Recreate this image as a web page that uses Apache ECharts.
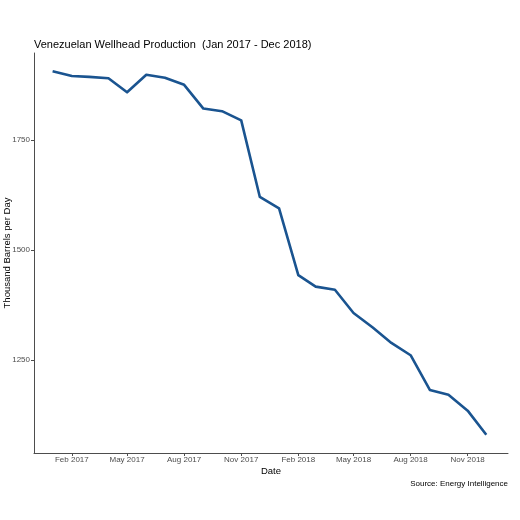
<!DOCTYPE html>
<html>
<head>
<meta charset="utf-8">
<script src="https://cdn.jsdelivr.net/npm/echarts@6/dist/echarts.min.js"></script>
<style>html,body{margin:0;padding:0;background:#fff;}#c{width:520px;height:520px;}</style>
</head>
<body>
<div id="c"></div>
<script>
var months = ['2017-01-01','2017-02-01','2017-03-01','2017-04-01','2017-05-01','2017-06-01','2017-07-01','2017-08-01','2017-09-01','2017-10-01','2017-11-01','2017-12-01',
              '2018-01-01','2018-02-01','2018-03-01','2018-04-01','2018-05-01','2018-06-01','2018-07-01','2018-08-01','2018-09-01','2018-10-01','2018-11-01','2018-12-01'];
var production = [1907,1896,1894,1891,1859,1899,1892,1876,1822,1816,1795,1621,
                  1595,1443,1417,1410,1357,1324,1289,1261,1182,1171,1135,1080];
var xTickDates = ['2017-02-01','2017-05-01','2017-08-01','2017-11-01','2018-02-01','2018-05-01','2018-08-01','2018-11-01'];
var yTicks = [1250,1500,1750];
var monthNames = ['Jan','Feb','Mar','Apr','May','Jun','Jul','Aug','Sep','Oct','Nov','Dec'];

function ts(s){var p=s.split('-');return Date.UTC(+p[0],+p[1]-1,+p[2]);}
var data = months.map(function(m,i){return [ts(m), production[i]];});
var xTicks = xTickDates.map(ts);
var xMin = ts('2016-12-02'), xMax = ts('2019-01-05');
var pMin = Math.min.apply(null,production), pMax = Math.max.apply(null,production);
var pad = (pMax-pMin)*0.05;
var FONT = 'Liberation Sans, Arial';

var chart = echarts.init(document.getElementById('c'));
chart.setOption({
  animation:false,
  backgroundColor:'#ffffff',
  title:[{
    text:'Venezuelan Wellhead Production  (Jan 2017 - Dec 2018)',
    left:34, top:39, padding:0,
    textStyle:{fontFamily:FONT, fontSize:11, fontWeight:'normal', color:'#000'}
  },{
    text:'Source: Energy Intelligence',
    right:12, top:480, padding:0,
    textStyle:{fontFamily:FONT, fontSize:8, fontWeight:'normal', color:'#000'}
  }],
  grid:{left:34, right:12, top:53, bottom:67, containLabel:false, outerBoundsMode:'none'},
  xAxis:{
    type:'value', min:xMin, max:xMax, scale:true,
    name:'Date', nameLocation:'middle', nameGap:13, nameMoveOverlap:false,
    nameTextStyle:{fontFamily:FONT, fontSize:9.5, color:'#000'},
    axisLine:{show:true, lineStyle:{color:'#4d4d4d', width:1}},
    axisTick:{show:true, customValues:xTicks, length:3, lineStyle:{color:'#4d4d4d'}},
    axisLabel:{show:true, customValues:xTicks, margin:3, fontFamily:FONT, fontSize:8, color:'#4d4d4d',
      formatter:function(v){var d=new Date(v);return monthNames[d.getUTCMonth()]+' '+d.getUTCFullYear();}},
    splitLine:{show:false}
  },
  yAxis:{
    type:'value', min:pMin-pad, max:pMax+pad, scale:true,
    name:'Thousand Barrels per Day', nameLocation:'middle', nameGap:22, nameMoveOverlap:false,
    nameTextStyle:{fontFamily:FONT, fontSize:9.5, color:'#000'},
    axisLine:{show:true, lineStyle:{color:'#4d4d4d', width:1}},
    axisTick:{show:true, customValues:yTicks, length:3, lineStyle:{color:'#4d4d4d'}},
    axisLabel:{show:true, customValues:yTicks, margin:4, fontFamily:FONT, fontSize:8, color:'#4d4d4d',
      formatter:function(v){return String(v);}},
    splitLine:{show:false}
  },
  series:[{
    type:'line', data:data, showSymbol:false, symbol:'none',
    lineStyle:{color:'#1a5490', width:2.6, join:'round'}
  }]
});
</script>
</body>
</html>
